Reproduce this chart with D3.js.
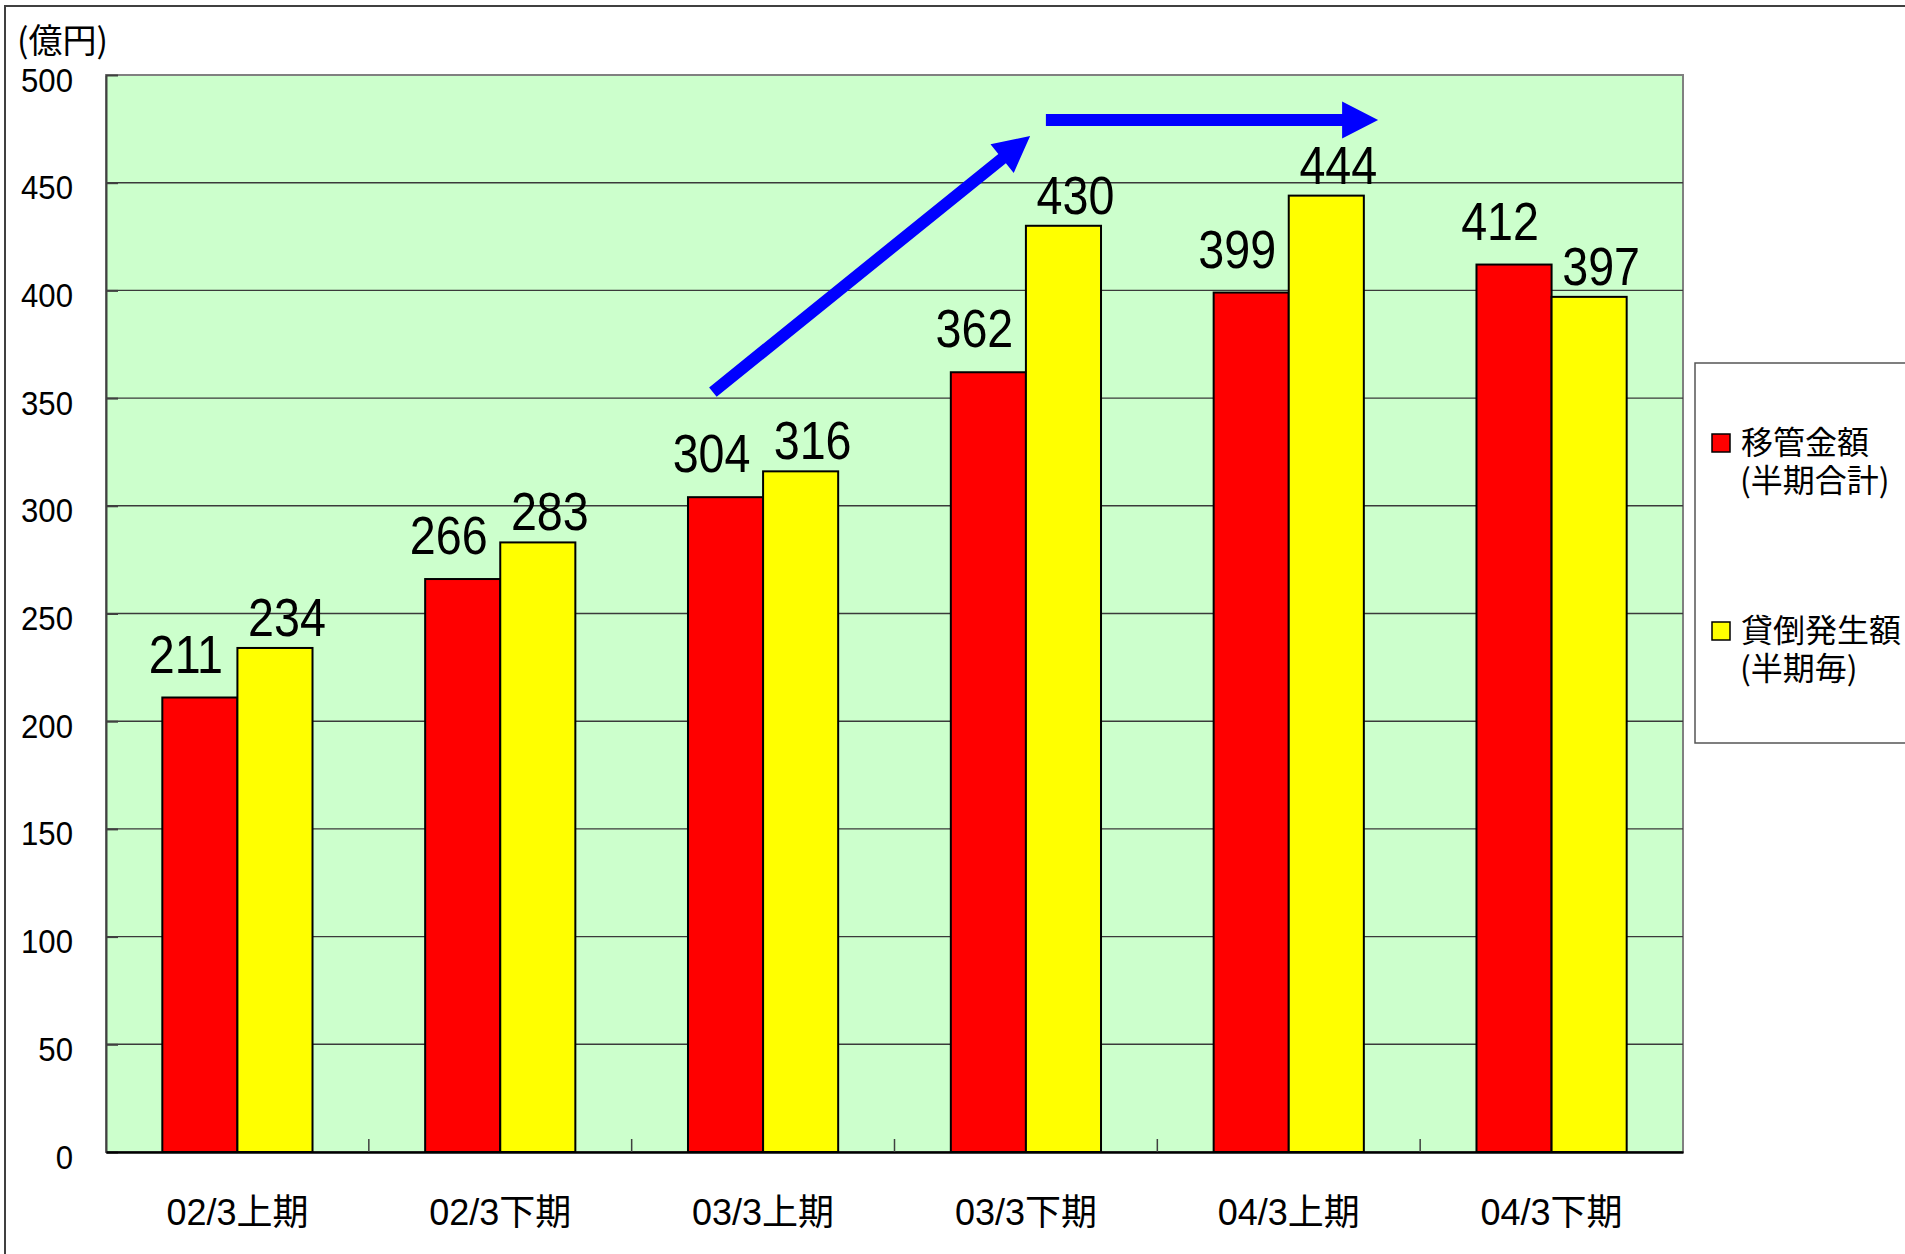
<!DOCTYPE html>
<html>
<head>
<meta charset="utf-8">
<script src="https://cdn.jsdelivr.net/npm/d3@7"></script>
<style>
  html, body { margin: 0; padding: 0; background: #ffffff; overflow: hidden; }
  svg { display: block; }
</style>
</head>
<body>
<svg id="chart" width="1905" height="1254"></svg>
<script>
// ---- data ----
const categories = ["02/3上期", "02/3下期", "03/3上期", "03/3下期", "04/3上期", "04/3下期"];
const seriesNames = ["移管金額", "貸倒発生額"];
const legendLine2 = ["(半期合計)", "(半期毎)"];
const transferValues = [211, 266, 304, 362, 399, 412];
const writeoffValues = [234, 283, 316, 430, 444, 397];
const yTicks = [0, 50, 100, 150, 200, 250, 300, 350, 400, 450, 500];
const unitLabel = "(億円)";
// annotation arrows in data space: [category position, value]
const arrows = [
  { from: [2.309, 352.8], to: [3.516, 471.7] },
  { from: [3.576, 479.1], to: [4.840, 479.1] }
];

// ---- layout / style ----
const plotL = 106, plotR = 1683, plotT = 75, plotB = 1152;
const colors = ["#ff0000", "#ffff00"];
const numFont = "'Liberation Sans', Arial, sans-serif";
const cjkFont = "'Liberation Sans', 'Noto Sans CJK JP', sans-serif";
const jpFont = "'Noto Sans CJK JP', sans-serif";

const svg = d3.select("#chart");

// outer frame
svg.append("rect").attr("x", 5).attr("y", 6).attr("width", 2000).attr("height", 2000)
  .attr("fill", "#fff").attr("stroke", "#404040").attr("stroke-width", 2);

const x = d3.scaleBand().domain(categories).range([plotL, plotR]).padding(0);
const xs = d3.scaleBand().domain(seriesNames).range([0, x.bandwidth()]).paddingInner(0).paddingOuter(0.75);
const y = d3.scaleLinear().domain([0, 500]).range([plotB, plotT]);
const xi = d3.scaleLinear().domain([0, categories.length]).range([plotL, plotR]);

// plot background
svg.append("rect").attr("x", plotL).attr("y", plotT).attr("width", plotR - plotL).attr("height", plotB - plotT)
  .attr("fill", "#ccffcc").attr("stroke", "#808080").attr("stroke-width", 2);

// gridlines
svg.append("g").selectAll("line").data(yTicks.filter(d => d > 0)).join("line")
  .attr("x1", plotL).attr("x2", plotR).attr("y1", d => y(d)).attr("y2", d => y(d))
  .attr("stroke", d => d === 500 ? "#808080" : "#3a3a3a").attr("stroke-width", 1.4);

// y axis
const yAxis = svg.append("g").attr("transform", `translate(${plotL},0)`)
  .call(d3.axisLeft(y).tickValues(yTicks).tickSizeInner(-12).tickSizeOuter(0).tickFormat(() => ""));
yAxis.select(".domain").attr("stroke", "#404040").attr("stroke-width", 2);
yAxis.selectAll(".tick line").attr("stroke", "#404040").attr("stroke-width", 2);
yAxis.selectAll(".tick").append("text")
  .attr("transform", "translate(-33,16) scale(0.93,1)")
  .attr("text-anchor", "end").attr("font-family", numFont).attr("font-size", 33.5)
  .attr("fill", "#000").text(d => d);

// x axis
const xAxis = svg.append("g").attr("transform", `translate(0,${plotB})`)
  .call(d3.axisBottom(x).tickSize(0).tickPadding(0));
xAxis.select(".domain").attr("stroke", "#000").attr("stroke-width", 2.5);
xAxis.selectAll(".tick text").attr("font-family", cjkFont).attr("font-size", 36)
  .attr("fill", "#000").attr("y", 73).attr("dy", 0);
// category boundary ticks (inside)
svg.append("g").selectAll("line").data(d3.range(1, categories.length)).join("line")
  .attr("x1", d => xi(d)).attr("x2", d => xi(d)).attr("y1", plotB).attr("y2", plotB - 13)
  .attr("stroke", "#404040").attr("stroke-width", 1.5);

// bars
const rows = categories.map((c, i) => ({ c, vals: [transferValues[i], writeoffValues[i]] }));
const groups = svg.append("g").selectAll("g").data(rows).join("g")
  .attr("transform", d => `translate(${x(d.c)},0)`);
groups.selectAll("rect").data(d => d.vals.map((v, k) => ({ v, k }))).join("rect")
  .attr("x", d => xs(seriesNames[d.k])).attr("width", xs.bandwidth())
  .attr("y", d => y(d.v)).attr("height", d => plotB - y(d.v))
  .attr("fill", d => colors[d.k]).attr("stroke", "#000").attr("stroke-width", 2);

// data labels
const labelShift = [-14, 12];
const labelGap = [25, 12];
groups.selectAll("text").data(d => d.vals.map((v, k) => ({ v, k }))).join("text")
  .attr("transform", d => `translate(${xs(seriesNames[d.k]) + xs.bandwidth() / 2 + labelShift[d.k]},${y(d.v) - labelGap[d.k]}) scale(0.88,1)`)
  .attr("text-anchor", "middle").attr("font-family", numFont).attr("font-size", 53)
  .attr("fill", "#000").text(d => d.v);

// arrows
function arrowPath(a) {
  const x0 = xi(a.from[0]), y0 = y(a.from[1]), x1 = xi(a.to[0]), y1 = y(a.to[1]);
  const dx = x1 - x0, dy = y1 - y0, L = Math.hypot(dx, dy);
  const ux = dx / L, uy = dy / L, px = -uy, py = ux;
  const sw = 6, hw = 18.5, hl = 36;
  const bx = x1 - ux * hl, by = y1 - uy * hl;
  const pts = [
    [x0 + px * sw, y0 + py * sw], [bx + px * sw, by + py * sw], [bx + px * hw, by + py * hw],
    [x1, y1], [bx - px * hw, by - py * hw], [bx - px * sw, by - py * sw], [x0 - px * sw, y0 - py * sw]
  ];
  return "M" + pts.map(p => p.join(",")).join("L") + "Z";
}
svg.append("g").selectAll("path").data(arrows).join("path")
  .attr("d", arrowPath).attr("fill", "#0000ff");

// unit label
svg.append("text").attr("x", 17).attr("y", 53).attr("font-family", jpFont).attr("font-size", 34)
  .attr("fill", "#000").text(unitLabel);

// legend
svg.append("rect").attr("x", 1695).attr("y", 363).attr("width", 300).attr("height", 380)
  .attr("fill", "#fff").attr("stroke", "#555").attr("stroke-width", 1.5);
const legY = [434, 622];
const leg = svg.append("g").selectAll("g").data(seriesNames).join("g");
leg.append("rect").attr("x", 1712).attr("y", (d, i) => legY[i]).attr("width", 18).attr("height", 18)
  .attr("fill", (d, i) => colors[i]).attr("stroke", "#000").attr("stroke-width", 1.5);
const lt = leg.append("text").attr("font-family", jpFont).attr("font-size", 32).attr("fill", "#000");
lt.append("tspan").attr("x", 1741).attr("y", (d, i) => legY[i] + 20).text(d => d);
lt.append("tspan").attr("x", 1740).attr("y", (d, i) => legY[i] + 58).text((d, i) => legendLine2[i]);
</script>
</body>
</html>
